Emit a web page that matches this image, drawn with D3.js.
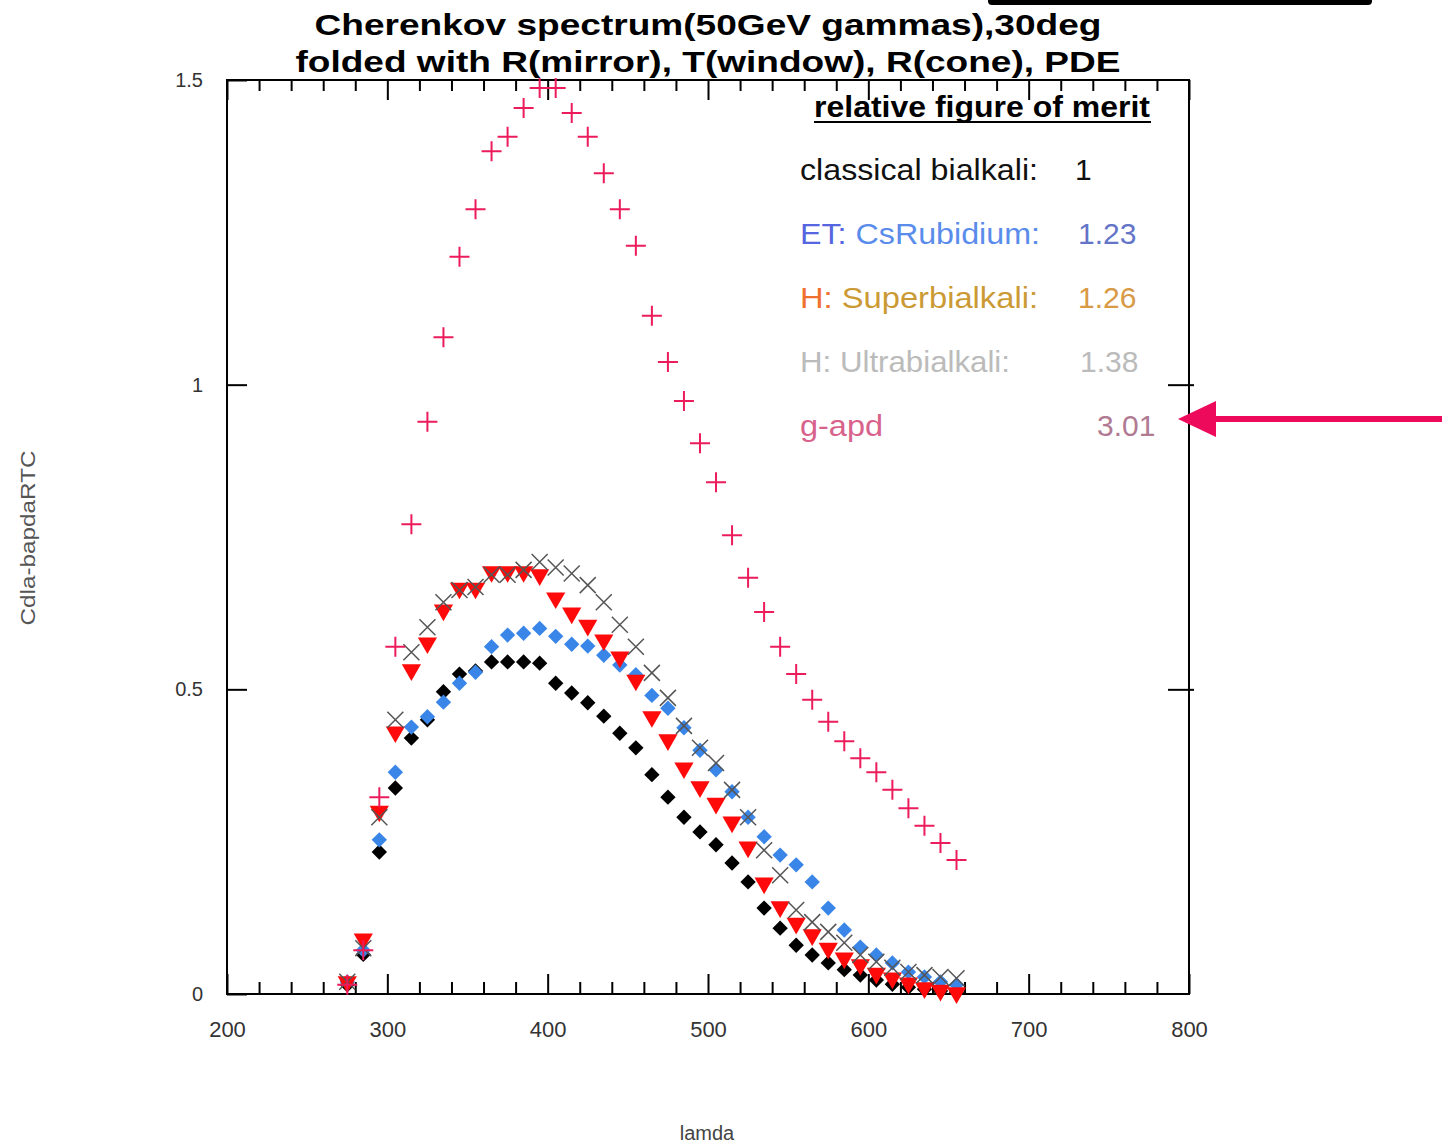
<!DOCTYPE html>
<html>
<head>
<meta charset="utf-8">
<script src="https://cdn.jsdelivr.net/npm/d3@7"></script>
<style>
    body { margin: 0; background: #fff; }
    svg { display: block; font-family: "Liberation Sans", Arial, Helvetica, sans-serif; }
</style>
</head>
<body>
<svg id="spectrum" width="1442" height="1146"></svg>
<script>
let lamda = [275, 285, 295, 305, 315, 325, 335, 345, 355, 365, 375, 385, 395,
    405, 415, 425, 435, 445, 455, 465, 475, 485, 495, 505, 515, 525, 535, 545,
    555, 565, 575, 585, 595, 605, 615, 625, 635, 645, 655]

// classical bialkali (black diamonds)
let classical = [0.015, 0.065, 0.233, 0.338, 0.42, 0.45, 0.496, 0.525, 0.53, 0.545, 0.545, 0.545, 0.543,
    0.51, 0.494, 0.478, 0.456, 0.428, 0.404, 0.36, 0.323, 0.29, 0.266, 0.245, 0.215, 0.184, 0.141, 0.108,
    0.08, 0.064, 0.051, 0.04, 0.031, 0.023, 0.016, 0.011, 0.008, 0.005, 0.003]
// ET CsRubidium (blue diamonds)
let csRubidium = [0.02, 0.072, 0.253, 0.364, 0.438, 0.455, 0.479, 0.51, 0.528, 0.57, 0.589, 0.592, 0.6,
    0.587, 0.574, 0.571, 0.556, 0.54, 0.524, 0.49, 0.469, 0.437, 0.4, 0.368, 0.332, 0.29, 0.258, 0.228,
    0.212, 0.184, 0.141, 0.105, 0.077, 0.064, 0.051, 0.036, 0.028, 0.02, 0.015]
// H superbialkali (red triangles)
let superBialkali = [0.02, 0.09, 0.3, 0.43, 0.532, 0.576, 0.63, 0.666, 0.666, 0.693, 0.693, 0.693, 0.688,
    0.65, 0.625, 0.605, 0.581, 0.553, 0.515, 0.455, 0.417, 0.371, 0.34, 0.313, 0.282, 0.241, 0.182, 0.143,
    0.116, 0.097, 0.075, 0.059, 0.048, 0.034, 0.026, 0.018, 0.01, 0.006, 0.002]
// H ultrabialkali (grey crosses)
let ultraBialkali = [0.02, 0.075, 0.29, 0.45, 0.561, 0.602, 0.643, 0.663, 0.668, 0.688, 0.688, 0.696, 0.709,
    0.70, 0.69, 0.671, 0.643, 0.606, 0.57, 0.527, 0.486, 0.44, 0.404, 0.379, 0.335, 0.29, 0.236, 0.195,
    0.138, 0.118, 0.102, 0.084, 0.064, 0.053, 0.043, 0.036, 0.031, 0.028, 0.026]
// g-apd (pink plus)
let gApd = [0.015, 0.072, 0.323, 0.57, 0.771, 0.939, 1.078, 1.21, 1.288, 1.383, 1.407, 1.454, 1.487,
    1.487, 1.446, 1.407, 1.347, 1.288, 1.228, 1.113, 1.037, 0.973, 0.904, 0.84, 0.753, 0.683, 0.627, 0.57,
    0.525, 0.483, 0.447, 0.415, 0.387, 0.364, 0.335, 0.305, 0.276, 0.248, 0.22]

let xMajor = [200, 300, 400, 500, 600, 700, 800]
let xMinor = [220, 240, 260, 280, 320, 340, 360, 380, 420, 440, 460, 480, 520, 540, 560, 580,
    620, 640, 660, 680, 720, 740, 760, 780]
let yTicks = [0, 0.5, 1, 1.5]

let meritHead = "relative figure of merit"
let meritNames = [["classical bialkali:"], ["ET: ", "CsRubidium:"], ["H: ", "Superbialkali:"],
    ["H: ", "Ultrabialkali:"], ["g-apd"]]
let meritValues = ["1", "1.23", "1.26", "1.38", "3.01"]

function plotSpectrum() {
    let svg = d3.select('#spectrum')
    let margin = {top: 80, right: 253, bottom: 152, left: 227}
    let width = +svg.attr('width')
    let height = +svg.attr('height')

    let x = d3.scaleLinear().domain([200, 800]).range([margin.left, width - margin.right])
    let y = d3.scaleLinear().domain([0, 1.5]).range([height - margin.bottom, margin.top])

    let bottom = height - margin.bottom
    let right = width - margin.right

    // title
    svg.append("text").attr("x", 708).attr("y", 35).attr("text-anchor", "middle")
        .attr("font-size", 30).attr("font-weight", "bold")
        .attr("textLength", 787).attr("lengthAdjust", "spacingAndGlyphs")
        .text("Cherenkov spectrum(50GeV gammas),30deg")
    svg.append("text").attr("x", 708).attr("y", 72).attr("text-anchor", "middle")
        .attr("font-size", 30).attr("font-weight", "bold")
        .attr("textLength", 825).attr("lengthAdjust", "spacingAndGlyphs")
        .text("folded with R(mirror), T(window), R(cone), PDE")

    // cut off box at the top
    svg.append("rect").attr("x", 988).attr("y", -6).attr("width", 384).attr("height", 11)
        .attr("rx", 4).attr("fill", "#000")

    function styleAxis(g) {
        g.select(".domain").remove()
        g.selectAll(".tick line").attr("stroke", "#000").attr("stroke-width", 2)
        g.selectAll("text").attr("fill", "#333").style("font-family", "Liberation Sans, Arial, sans-serif")
    }

    // X axis
    svg.append("g")
        .attr("transform", "translate(0," + bottom + ")")
        .call(d3.axisBottom(x).tickValues(xMajor).tickSizeInner(-20).tickSizeOuter(0)
            .tickPadding(27).tickFormat(d3.format("d")))
        .call(styleAxis)
        .style("font-size", "22px")
    svg.append("g")
        .attr("transform", "translate(0," + bottom + ")")
        .call(d3.axisBottom(x).tickValues(xMinor).tickSizeInner(-12).tickSizeOuter(0).tickFormat(""))
        .call(styleAxis)
    svg.append("g")
        .attr("transform", "translate(0," + margin.top + ")")
        .call(d3.axisTop(x).tickValues(xMajor).tickSizeInner(-20).tickSizeOuter(0).tickFormat(""))
        .call(styleAxis)
    svg.append("g")
        .attr("transform", "translate(0," + margin.top + ")")
        .call(d3.axisTop(x).tickValues(xMinor).tickSizeInner(-11).tickSizeOuter(0).tickFormat(""))
        .call(styleAxis)

    // Y axis
    svg.append("g")
        .attr("transform", "translate(" + margin.left + ",0)")
        .call(d3.axisLeft(y).tickValues(yTicks).tickSizeInner(-20).tickSizeOuter(0)
            .tickPadding(24).tickFormat(d3.format("")))
        .call(styleAxis)
        .style("font-size", "20px")
    svg.append("g")
        .attr("transform", "translate(" + right + ",0)")
        .call(d3.axisRight(y).tickValues([0.5, 1]).tickSizeInner(-21).tickSizeOuter(0).tickFormat(""))
        .call(styleAxis)
    svg.append("g")
        .attr("transform", "translate(" + right + ",0)")
        .call(d3.axisRight(y).tickValues([0.5, 1]).tickSizeInner(5).tickSizeOuter(0).tickFormat(""))
        .call(styleAxis)

    // frame
    svg.append("rect")
        .attr("x", margin.left).attr("y", margin.top)
        .attr("width", right - margin.left).attr("height", bottom - margin.top)
        .attr("fill", "none").attr("stroke", "#000").attr("stroke-width", 2)

    // axis labels
    svg.append("text").attr("x", 707).attr("y", 1140).attr("text-anchor", "middle")
        .attr("font-size", 20).attr("fill", "#444").text("lamda")
    svg.append("text").attr("transform", "translate(35,538) rotate(-90)").attr("text-anchor", "middle")
        .attr("font-size", 21).attr("fill", "#555")
        .attr("textLength", 175).attr("lengthAdjust", "spacingAndGlyphs")
        .text("Cdla-bapdaRTC")

    let diamond = d3.symbol(d3.symbolSquare, 118)()
    let triangle = d3.symbol(d3.symbolTriangle, 160)()
    let ex = "M-8,-8L8,8M-8,8L8,-8"
    let plus = "M-10,0L10,0M0,-10L0,10"

    function drawSeries(values, shape, fill, stroke, width, rotate) {
        svg.append("g").selectAll("path")
            .data(values)
            .enter()
            .append("path")
            .attr("transform", function (d, i) {
                return "translate(" + x(lamda[i]) + "," + y(d) + ") rotate(" + rotate + ")"
            })
            .attr("d", shape)
            .attr("fill", fill)
            .attr("stroke", stroke)
            .attr("stroke-width", width)
    }

    drawSeries(classical, diamond, "#000", "none", 0, 45)
    drawSeries(csRubidium, diamond, "#3a86e8", "none", 0, 45)
    drawSeries(superBialkali, triangle, "#ff0a0a", "none", 0, 180)
    drawSeries(ultraBialkali, ex, "none", "#555", 1.5, 0)
    drawSeries(gApd, plus, "none", "#ec1c5c", 2, 0)

    // figure of merit text
    svg.append("text").attr("x", 814).attr("y", 117)
        .attr("font-size", 30).attr("font-weight", "bold")
        .attr("textLength", 336).attr("lengthAdjust", "spacingAndGlyphs")
        .text(meritHead)
    svg.append("line").attr("x1", 814).attr("x2", 1151).attr("y1", 122).attr("y2", 122)
        .attr("stroke", "#000").attr("stroke-width", 2)

    let nameColors = [["#111"], ["#5566e0", "#5a8ceb"], ["#f07030", "#cc9a35"], ["#bbb", "#bbb"], ["#d8628c"]]
    let valueColors = ["#111", "#6475c8", "#d89a45", "#bbb", "#b07a92"]
    let valueX = [1075, 1078, 1078, 1080, 1097]
    let nameLen = [238, 240, 238, 210, 83]

    meritNames.forEach(function (parts, i) {
        let t = svg.append("text").attr("x", 800).attr("y", 180 + 64 * i)
            .attr("font-size", 30)
            .attr("textLength", nameLen[i]).attr("lengthAdjust", "spacingAndGlyphs")
        parts.forEach(function (p, j) {
            t.append("tspan").attr("fill", nameColors[i][j]).text(p)
        })
        svg.append("text").attr("x", valueX[i]).attr("y", 180 + 64 * i)
            .attr("font-size", 30).attr("fill", valueColors[i])
            .text(meritValues[i])
    })

    // arrow pointing at the g-apd number
    svg.append("line").attr("x1", 1442).attr("x2", 1205).attr("y1", 419).attr("y2", 419)
        .attr("stroke", "#ee0a5a").attr("stroke-width", 6)
    svg.append("path").attr("d", "M1178,419L1216,401L1216,437Z").attr("fill", "#ee0a5a")
}

plotSpectrum()
</script>
</body>
</html>
